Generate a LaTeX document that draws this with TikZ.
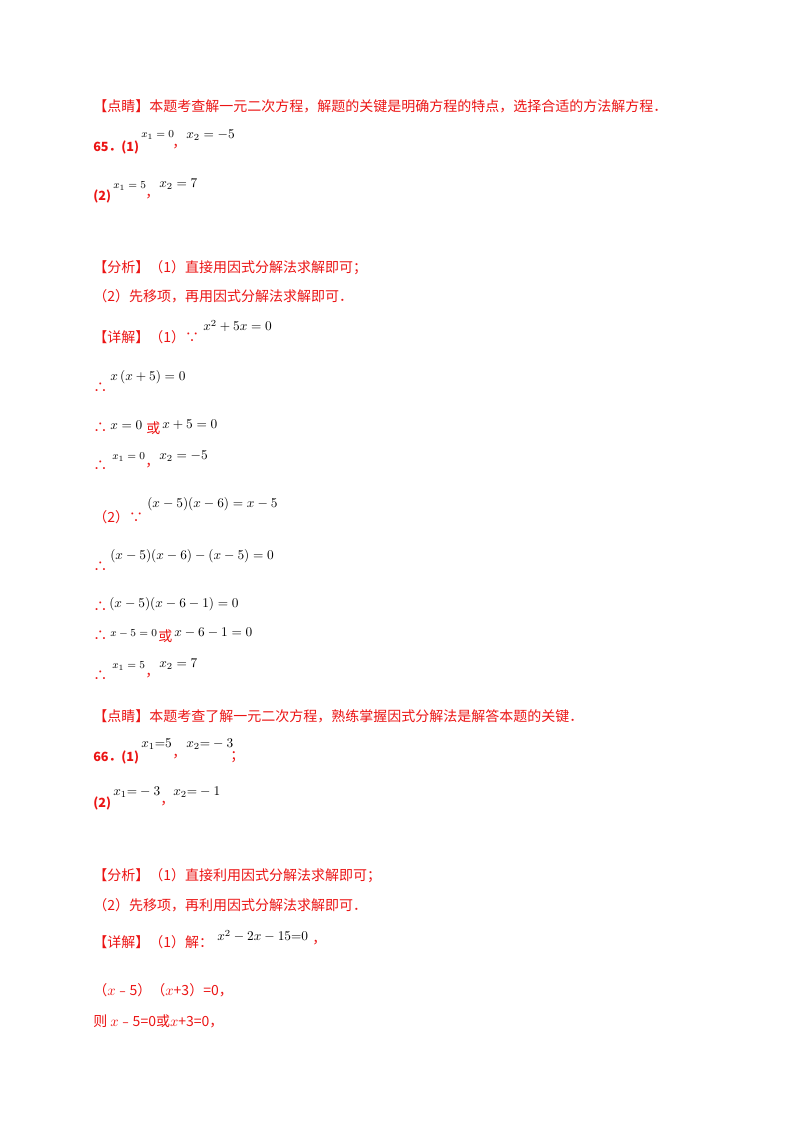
\documentclass[tikz,border=0pt]{standalone}
\usepackage{fontspec}
\newfontfamily\cjk{Noto Sans CJK SC}
\definecolor{rd}{RGB}{235,20,20}
\begin{document}
\begin{tikzpicture}[x=0.75pt,y=-0.75pt,
  t/.style={anchor=west,inner sep=0pt,text=rd,font=\cjk\fontsize{10.5pt}{12pt}\selectfont},
  tb/.style={t,font=\cjk\bfseries\fontsize{9.5pt}{12pt}\selectfont},
  m/.style={anchor=west,inner sep=0pt,font=\fontsize{10pt}{12pt}\selectfont},
  s/.style={anchor=west,inner sep=0pt,font=\fontsize{8pt}{10pt}\selectfont}]
\useasboundingbox (0,0) rectangle (800,1132);
\node[t] (a1) at (93,106) {【点睛】本题考查解一元二次方程，解题的关键是明确方程的特点，选择合适的方法解方程．};
\node[tb] (a2) at (93,147) {65．(1)};
\node[s] (a3) at (141,135) {$x_1=0$};
\node[t] (a4) at (172,147) {，};
\node[m] (a5) at (186,135) {$x_2=-5$};
\node[tb] (b1) at (93,196) {(2)};
\node[s] (b2) at (113,186) {$x_1=5$};
\node[t] (b3) at (145,197) {，};
\node[m] (b4) at (159,184) {$x_2=7$};
\node[t] (c1) at (93,268) {【分析】（1）直接用因式分解法求解即可；};
\node[t] (c2) at (93,296) {（2）先移项，再用因式分解法求解即可．};
\node[t] (c3) at (93,337) {【详解】（1）∵};
\node[m] (c4) at (203,326) {$x^2+5x=0$};
\node[t] (d1) at (93,388) {∴};
\node[m] (d2) at (110,377) {$x\left(x+5\right)=0$};
\node[t] (e1) at (93,428) {∴};
\node[m] (e2) at (110,425) {$x=0$};
\node[t] (e3) at (146,428) {或};
\node[m] (e4) at (162,425) {$x+5=0$};
\node[t] (f1) at (93,466) {∴};
\node[s] (f2) at (112,457) {$x_1=0$};
\node[t] (f3) at (145,466) {，};
\node[m] (f4) at (159,456) {$x_2=-5$};
\node[t] (g1) at (93,517) {（2）∵};
\node[m] (g2) at (147,504) {$(x-5)(x-6)=x-5$};
\node[t] (h1) at (93,567) {∴};
\node[m] (h2) at (110,556) {$(x-5)(x-6)-\left(x-5\right)=0$};
\node[t] (i1) at (93,607) {∴};
\node[m] (i2) at (109,604) {$(x-5)(x-6-1)=0$};
\node[t] (j1) at (93,636) {∴};
\node[s] (j2) at (110,634) {$x-5=0$};
\node[t] (j3) at (158,636) {或};
\node[m] (j4) at (174,633) {$x-6-1=0$};
\node[t] (k1) at (93,676) {∴};
\node[s] (k2) at (112,666) {$x_1=5$};
\node[t] (k3) at (145,676) {，};
\node[m] (k4) at (159,664) {$x_2=7$};
\node[t] (l1) at (93,716) {【点睛】本题考查了解一元二次方程，熟练掌握因式分解法是解答本题的关键．};
\node[tb] (n1) at (93,757) {66．(1)};
\node[m] (n2) at (141,744) {$x_1{=}5$};
\node[t] (n3) at (172,757) {，};
\node[m] (n4) at (186,744) {$x_2{=}-3$};
\node[t] (n5) at (230,757) {；};
\node[tb] (o1) at (93,803) {(2)};
\node[m] (o2) at (113,792) {$x_1{=}-3$};
\node[t] (o3) at (160,804) {，};
\node[m] (o4) at (173,792) {$x_2{=}-1$};
\node[t] (p1) at (93,876) {【分析】（1）直接利用因式分解法求解即可；};
\node[t] (p2) at (93,905) {（2）先移项，再利用因式分解法求解即可．};
\node[t] (q1) at (93,942) {【详解】（1）解：};
\node[m] (q2) at (217,936) {$x^2-2x-15{=}0$};
\node[t] (q3) at (312,943) {，};
\node[t] (r1) at (93,990) {（$x$﹣5）（$x$+3）=0，};
\node[t] (r2) at (93,1021) {则 $x$﹣5=0或$x$+3=0，};
\end{tikzpicture}
\end{document}
